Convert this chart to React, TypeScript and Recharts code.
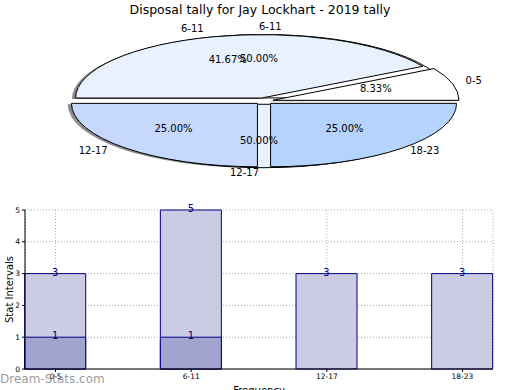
import React from "react";
import {
  PieChart,
  Pie,
  Cell,
  BarChart,
  Bar,
  XAxis,
  YAxis,
  CartesianGrid,
  LabelList,
} from "recharts";

// tally data
const categories = ["0-5", "6-11", "12-17", "18-23"];
const totals = [3, 5, 3, 3];
const lowerCounts = [1, 1, 0, 0];

// pie shares as drawn in the source (1/12, 5/12, 3/12, 3/12)
const pieValues = [1, 5, 3, 3];

// second (overlaid) pie as drawn in the source
const innerNames = ["6-11", "12-17"];
const innerValues = [1, 1];

const outerColors = ["#ffffff", "#e9f0fe", "#c6d8fe", "#b4d4fe"];
const innerColors = ["#ffffff", "#e9f0fe"];

const FONT = "'DejaVu Sans', sans-serif";
const TICK_FONT = "'Liberation Sans Narrow', 'DejaVu Sans', sans-serif";
const NAVY = "#000080";

// pie geometry (flattened ellipse, every wedge exploded a bit)
const R = 186;
const K = 0.341;
const EXPLODE = 0.05;
const CX = 259;
const CY = 99.4;
const RAD = Math.PI / 180;

const midAngles = (vals: number[]) => {
  const sum = vals.reduce((a, b) => a + b, 0);
  let acc = 0;
  return vals.map((v) => {
    const mid = ((acc + v / 2) / sum) * 360;
    acc += v;
    return mid;
  });
};

const sliceTransform = (mid: number, dx = 0, dy = 0) => {
  const ex = EXPLODE * R * Math.cos(mid * RAD) + dx;
  const ey = -EXPLODE * R * K * Math.sin(mid * RAD) + dy;
  return `translate(${CX + ex}, ${CY + ey}) scale(1, ${K}) translate(${-CX}, ${-CY})`;
};

const pieLabel = (props: any) => {
  const { midAngle, percent, name } = props;
  const c = Math.cos(midAngle * RAD);
  const s = Math.sin(midAngle * RAD);
  const bx = CX + EXPLODE * R * c;
  const by = CY - EXPLODE * R * K * s;
  return (
    <g>
      <text
        x={bx + 1.1 * R * c}
        y={by - 1.1 * R * K * s}
        textAnchor={c > 0 ? "start" : "end"}
        dominantBaseline="central"
        fontSize={10}
        fontFamily={FONT}
        fill="#000"
      >
        {name}
      </text>
      <text
        x={bx + 0.6 * R * c}
        y={by - 0.6 * R * K * s}
        textAnchor="middle"
        dominantBaseline="central"
        fontSize={10}
        fontFamily={FONT}
        fill="#000"
      >
        {(percent * 100).toFixed(2)}%
      </text>
    </g>
  );
};

const outerData = categories.map((c, i) => ({ name: c, value: pieValues[i] }));
const innerData = innerNames.map((c, i) => ({ name: c, value: innerValues[i] }));
const outerMids = midAngles(pieValues);
const innerMids = midAngles(innerValues);

const rows = categories.map((c, i) => ({
  pos: i,
  cat: c,
  total: totals[i],
  lower: lowerCounts[i],
}));
const xTicks = categories.map((_, i) => i);
const yTicks = [0, 1, 2, 3, 4, 5];

const hideZero = (v: any) => (v ? v : "");

export default function App() {
  return (
    <div style={{ position: "absolute", left: 0, top: 0, width: 520, height: 390, background: "#fff" }}>
      <div
        style={{
          position: "absolute",
          top: 2,
          left: 0,
          width: 520,
          textAlign: "center",
          fontFamily: FONT,
          fontSize: 12.5,
          lineHeight: "16px",
        }}
      >
        Disposal tally for Jay Lockhart - 2019 tally
      </div>

      <div style={{ position: "absolute", top: 0, left: 0 }}>
        <PieChart width={520} height={185}>
          {/* soft drop shadow under everything */}
          <Pie
            data={outerData}
            dataKey="value"
            nameKey="name"
            cx={CX}
            cy={CY}
            outerRadius={R}
            startAngle={0}
            endAngle={360}
            label={false}
            labelLine={false}
            isAnimationActive={false}
          >
            {outerData.map((d, i) => (
              <Cell
                key={d.name}
                fill="#8c8c8c"
                stroke="none"
                transform={sliceTransform(outerMids[i], -3.7, 1.0)}
              />
            ))}
          </Pie>
          <Pie
            data={innerData}
            dataKey="value"
            nameKey="name"
            cx={CX}
            cy={CY}
            outerRadius={R}
            startAngle={0}
            endAngle={360}
            label={false}
            labelLine={false}
            isAnimationActive={false}
          >
            {innerData.map((d, i) => (
              <Cell
                key={d.name}
                fill={innerColors[i]}
                stroke="#000"
                strokeWidth={1}
                vectorEffect="non-scaling-stroke"
                transform={sliceTransform(innerMids[i])}
              />
            ))}
          </Pie>
          <Pie
            data={outerData}
            dataKey="value"
            nameKey="name"
            cx={CX}
            cy={CY}
            outerRadius={R}
            startAngle={0}
            endAngle={360}
            label={pieLabel}
            labelLine={false}
            isAnimationActive={false}
          >
            {outerData.map((d, i) => (
              <Cell
                key={d.name}
                fill={outerColors[i]}
                stroke="#000"
                strokeWidth={1}
                vectorEffect="non-scaling-stroke"
                transform={sliceTransform(outerMids[i])}
              />
            ))}
          </Pie>
          {/* labels of the overlaid pie, drawn last so they stay visible */}
          <Pie
            data={innerData}
            dataKey="value"
            nameKey="name"
            cx={CX}
            cy={CY}
            outerRadius={R}
            startAngle={0}
            endAngle={360}
            label={pieLabel}
            labelLine={false}
            isAnimationActive={false}
          >
            {innerData.map((d, i) => (
              <Cell
                key={d.name}
                fill="none"
                stroke="none"
                transform={sliceTransform(innerMids[i])}
              />
            ))}
          </Pie>
        </PieChart>
      </div>

      <div style={{ position: "absolute", top: 200, left: 0 }}>
        <BarChart width={520} height={190} data={rows} margin={{ top: 10, right: 27, bottom: 0, left: 0 }}>
          <XAxis
            xAxisId="b"
            dataKey="pos"
            type="number"
            domain={[-0.225, 3.225]}
            ticks={xTicks}
            tickFormatter={(v: number) => categories[v]}
            height={21}
            tickSize={3}
            axisLine={{ stroke: "#000" }}
            tickLine={{ stroke: "#000" }}
            tick={{ fontSize: 7.5, fill: "#000", fontFamily: TICK_FONT }}
            label={{ value: "Frequency", position: "insideBottom", offset: -4, fontSize: 10, fill: "#000", fontFamily: FONT }}
          />
          <XAxis
            xAxisId="t"
            dataKey="pos"
            type="number"
            orientation="top"
            domain={[-0.225, 3.225]}
            ticks={xTicks}
            height={0}
            tick={false}
            tickLine={false}
            axisLine={{ stroke: "#000" }}
          />
          <YAxis
            domain={[0, 5]}
            ticks={yTicks}
            width={25}
            tickSize={3}
            axisLine={{ stroke: "#000" }}
            tickLine={{ stroke: "#000" }}
            tick={{ fontSize: 7.5, fill: "#000", fontFamily: TICK_FONT }}
            label={{ value: "Stat Intervals", angle: -90, position: "center", dx: -3.5, fontSize: 10, fill: "#000", fontFamily: FONT }}
          />
          <YAxis
            yAxisId="r"
            orientation="right"
            domain={[0, 5]}
            ticks={yTicks}
            width={0}
            tick={false}
            tickLine={false}
            axisLine={{ stroke: "#000" }}
          />
          <Bar
            xAxisId="b"
            dataKey="total"
            barSize={61}
            fill="#cbcbe3"
            stroke={NAVY}
            strokeWidth={1}
            isAnimationActive={false}
          >
            <LabelList
              dataKey="total"
              position="top"
              offset={-2}
              formatter={hideZero}
              style={{ fontSize: 10, fill: NAVY, fontFamily: FONT }}
            />
          </Bar>
          <Bar
            xAxisId="t"
            dataKey="lower"
            barSize={61}
            fill="#a3a3cf"
            stroke={NAVY}
            strokeWidth={1}
            isAnimationActive={false}
          >
            <LabelList
              dataKey="lower"
              position="top"
              offset={-2}
              formatter={hideZero}
              style={{ fontSize: 10, fill: NAVY, fontFamily: FONT }}
            />
          </Bar>
          <CartesianGrid xAxisId="b" strokeDasharray="1 2" stroke="#aaaaaa" />
        </BarChart>
      </div>

      <div
        style={{
          position: "absolute",
          left: 0,
          top: 371,
          fontFamily: FONT,
          fontSize: 12,
          color: "rgba(128,128,128,0.8)",
          lineHeight: "16px",
        }}
      >
        Dream-Stats.com
      </div>
    </div>
  );
}
